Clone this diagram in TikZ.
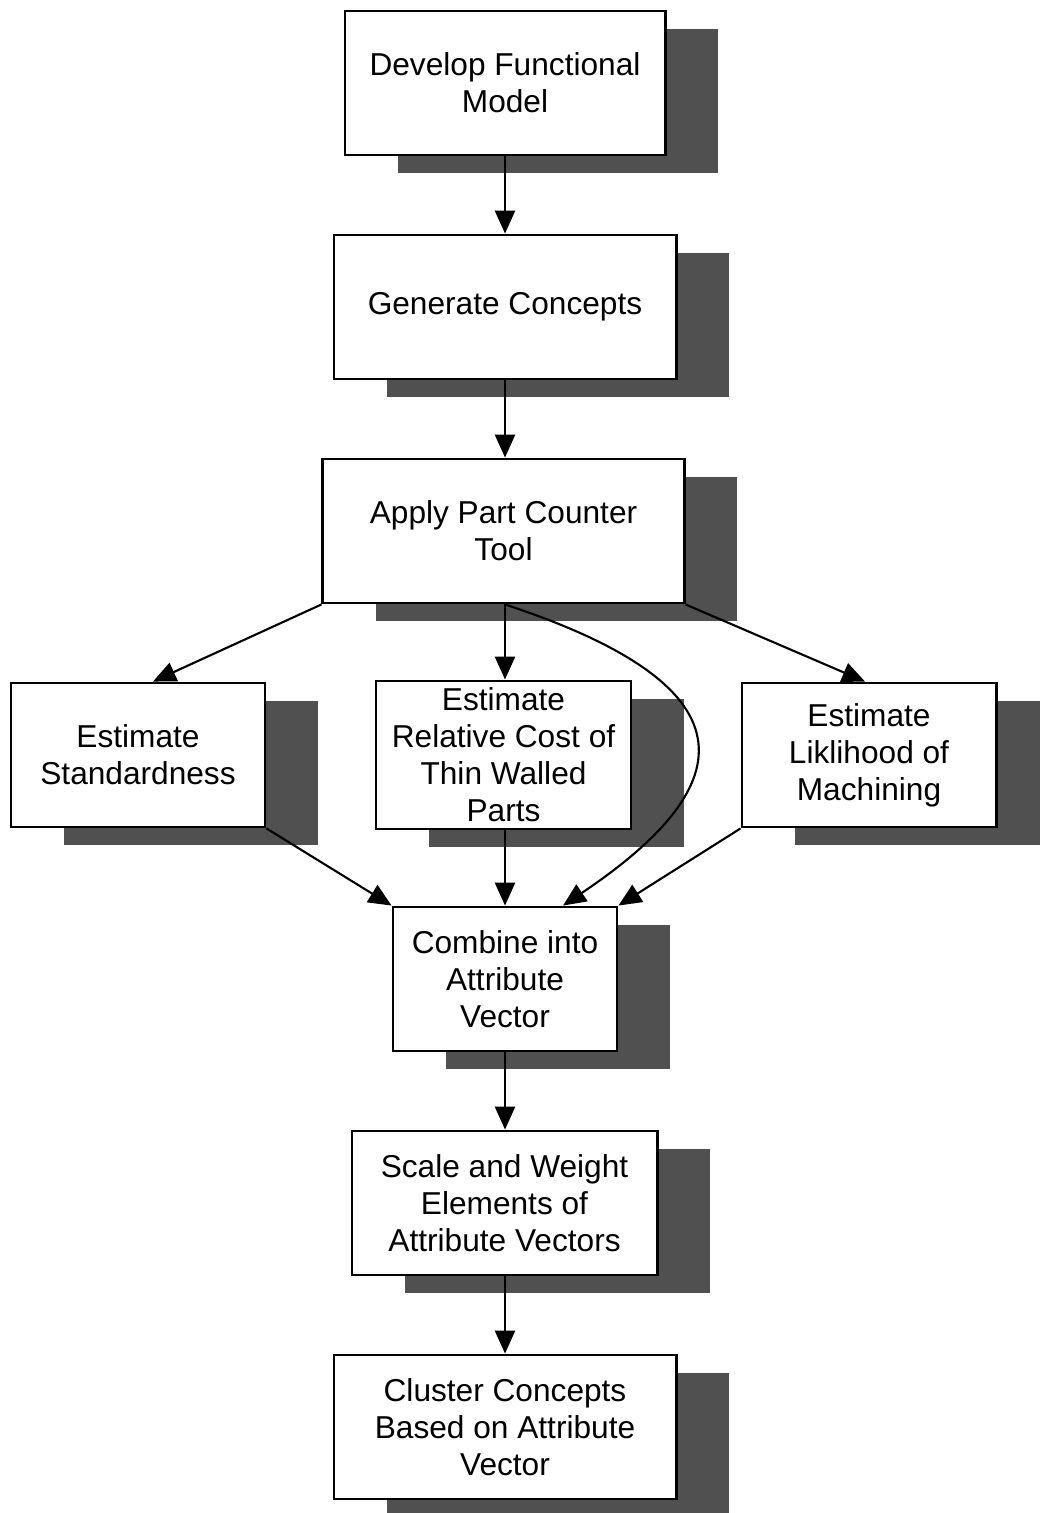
\documentclass[tikz,border=0pt]{standalone}
\usepackage{fontspec}
\setmainfont{Liberation Sans}
\usetikzlibrary{arrows.meta,shadows}
\definecolor{shgray}{HTML}{505050}
\begin{document}
\begin{tikzpicture}[x=0.01cm,y=-0.01cm,
  box/.style={draw=black, line width=0.8pt, fill=white, align=center,
    minimum height=1.44cm, inner sep=2pt,
    font=\fontsize{9}{10.5}\selectfont,
    general shadow={fill=shgray, shadow xshift=0.53cm, shadow yshift=-0.18cm}},
  conn/.style={draw=black, line width=0.6pt, -{Triangle[length=6.5pt,width=5.7pt]}}]
\useasboundingbox (0,0) rectangle (1039,1513);
\node[box, minimum width=3.20cm] (dev) at (505,83) {Develop Functional\\Model};
\node[box, minimum width=3.42cm] (gen) at (505,307) {Generate Concepts};
\node[box, minimum width=3.61cm] (app) at (503.5,531) {Apply Part Counter\\Tool};
\node[box, minimum width=2.54cm] (std) at (138,755) {Estimate\\Standardness};
\node[box, minimum width=2.55cm] (thin) at (503.5,755) {Estimate\\Relative Cost of\\Thin Walled\\Parts};
\node[box, minimum width=2.54cm] (mach) at (869,755) {Estimate\\Liklihood of\\Machining};
\node[box, minimum width=2.24cm] (comb) at (505,979) {Combine into\\Attribute\\Vector};
\node[box, minimum width=3.05cm] (scale) at (504.5,1203) {Scale and Weight\\Elements of\\Attribute Vectors};
\node[box, minimum width=3.42cm] (clus) at (505,1427) {Cluster Concepts\\Based on Attribute\\Vector};
\draw[conn] (dev.south) -- (dev.south |- gen.north);
\draw[conn] (gen.south) -- (gen.south |- app.north);
\draw[conn] (app.south west) -- ([xshift=0.15cm]std.north);
\draw[conn] ([xshift=0.015cm]app.south) -- ([xshift=0.015cm]thin.north);
\draw[conn] (app.south east) -- ([xshift=-0.04cm]mach.north);
\draw[conn] ([xshift=0.015cm]app.south) .. controls (765,690) and (735,790) .. ([xshift=0.58cm]comb.north);
\draw[conn] (std.south east) -- (comb.north west);
\draw[conn] (comb.north |- thin.south) -- (comb.north);
\draw[conn] (mach.south west) -- (comb.north east);
\draw[conn] (comb.south) -- (comb.south |- scale.north);
\draw[conn] (comb.south |- scale.south) -- (comb.south |- clus.north);
\end{tikzpicture}
\end{document}
